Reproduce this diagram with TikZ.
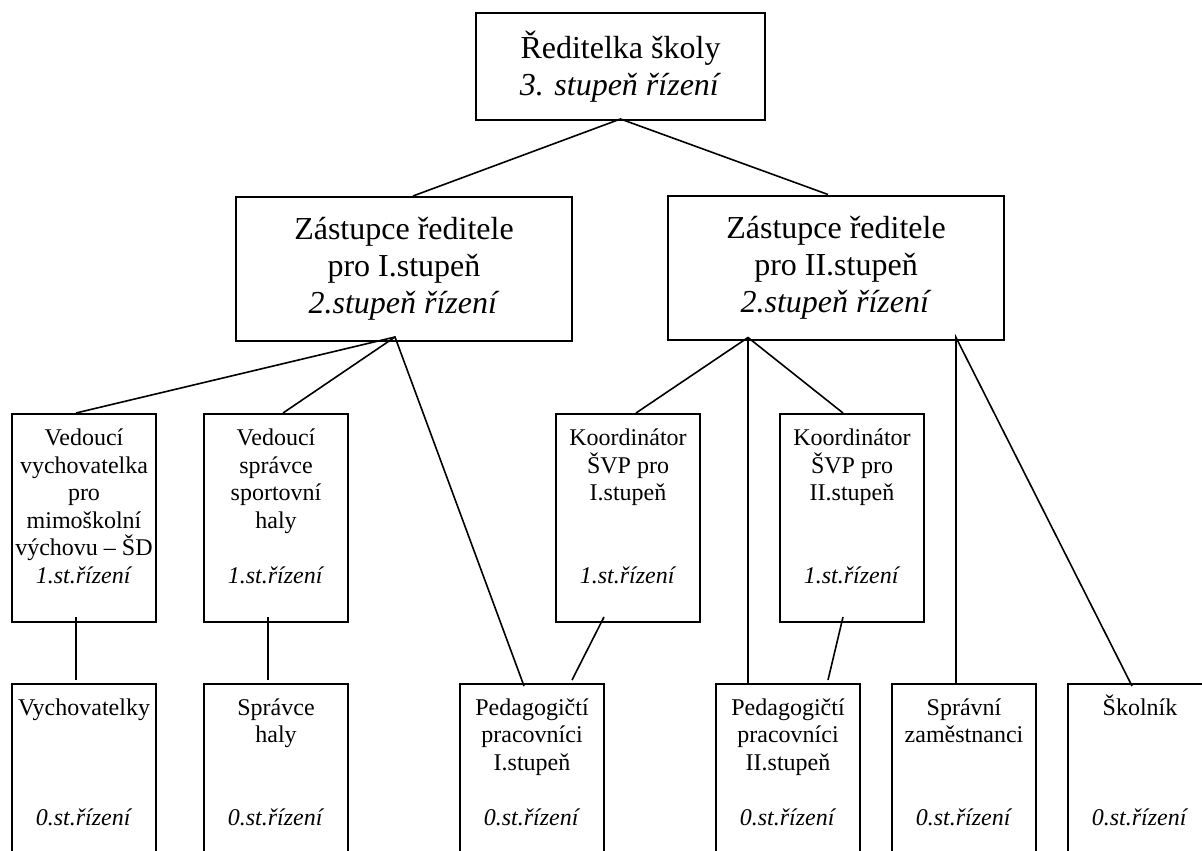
\documentclass[tikz,border=0pt]{standalone}
\usepackage{fontspec}
\setmainfont{Liberation Serif}
\usetikzlibrary{positioning}

\begin{document}
\begin{tikzpicture}[x = 0.5pt, y = -0.5pt]

\tikzset{
head/.style = {rectangle, draw, line width = 1pt, align = center,
	font = \fontsize{16}{18.5}\selectfont},
unit/.style = {rectangle, draw, line width = 1pt, minimum width = 72pt,
	minimum height = 104pt, inner sep = 0pt},
txt/.style = {align = center, inner sep = 0pt, anchor = base,
	font = \fontsize{12}{13.75}\selectfont},
link/.style = {line width = 0.8pt},
	}

\clip (0, 0) rectangle (1202, 850);
\fill [white] (0, 0) rectangle (1202, 850);

%% Vedeni
\node at (620.5, 66.5) [head, minimum width = 144.5pt, minimum height = 53.5pt] (reditel) {Ředitelka školy\\ \textit{3. stupeň řízení}};
\node at (404, 269) [head, minimum width = 168pt, minimum height = 72pt] (zl) {Zástupce ředitele\\ pro I.stupeň\\ \textit{2.stupeň řízení}};
\node at (836, 267.5) [head, minimum width = 168pt, minimum height = 72pt] (zr) {Zástupce ředitele\\ pro II.stupeň\\ \textit{2.stupeň řízení}};

%% 1. stupen rizeni
\node at (84, 518) [unit] (vv) {};
\node at (276, 518) [unit] (vs) {};
\node at (628, 518) [unit] (k1) {};
\node at (852, 518) [unit] (k2) {};
\node at ([yshift = -85pt]vv.north) [txt] (vv-t) {Vedoucí\\ vychovatelka\\ pro\\ mimoškolní\\ výchovu – ŠD\\ \textit{1.st.řízení}};
\node at ([yshift = -85pt]vs.north) [txt] (vs-t) {Vedoucí\\ správce\\ sportovní\\ haly\\ \mbox{}\\ \textit{1.st.řízení}};
\node at ([yshift = -85pt]k1.north) [txt] (k1-t) {Koordinátor\\ ŠVP pro\\ I.stupeň\\ \mbox{}\\ \mbox{}\\ \textit{1.st.řízení}};
\node at ([yshift = -85pt]k2.north) [txt] (k2-t) {Koordinátor\\ ŠVP pro\\ II.stupeň\\ \mbox{}\\ \mbox{}\\ \textit{1.st.řízení}};

%% 0. stupen rizeni
\node at (84, 788) [unit] (vych) {};
\node at (276, 788) [unit] (spr) {};
\node at (532, 788) [unit] (p1) {};
\node at (788, 788) [unit] (p2) {};
\node at (964, 788) [unit] (sz) {};
\node at (1140, 788) [unit] (sk) {};
\node at ([yshift = -71pt]vych.north) [txt] (vych-t) {Vychovatelky\\ \mbox{}\\ \mbox{}\\ \mbox{}\\ \textit{0.st.řízení}};
\node at ([yshift = -71pt]spr.north) [txt] (spr-t) {Správce\\ haly\\ \mbox{}\\ \mbox{}\\ \textit{0.st.řízení}};
\node at ([yshift = -71pt]p1.north) [txt] (p1-t) {Pedagogičtí\\ pracovníci\\ I.stupeň\\ \mbox{}\\ \textit{0.st.řízení}};
\node at ([yshift = -71pt]p2.north) [txt] (p2-t) {Pedagogičtí\\ pracovníci\\ II.stupeň\\ \mbox{}\\ \textit{0.st.řízení}};
\node at ([yshift = -71pt]sz.north) [txt] (sz-t) {Správní\\ zaměstnanci\\ \mbox{}\\ \mbox{}\\ \textit{0.st.řízení}};
\node at ([yshift = -71pt]sk.north) [txt] (sk-t) {Školník\\ \mbox{}\\ \mbox{}\\ \mbox{}\\ \textit{0.st.řízení}};

% Vazby
\draw [link] ([xshift = 4.5pt]zl.north) -- ([yshift = 1pt]reditel.south) -- ([xshift = -4pt]zr.north);

\draw [link] ([xshift = -4pt]vv.north) -- ([xshift = -4.5pt, yshift = 2.5pt]zl.south) -- ([xshift = -4pt, yshift = -1.5pt]p1.north);
\draw [link] ([xshift = -4.5pt, yshift = 2.5pt]zl.south) -- ([xshift = 3.5pt]vs.north);

\draw [link] ([xshift = 4pt]k1.north) -- ([xshift = -44pt, yshift = 1.5pt]zr.south) -- ([xshift = -4.5pt]k2.north);
\draw [link] ([xshift = -44pt, yshift = 1.5pt]zr.south) -- ([xshift = -20pt]p2.north);
\draw [link] ([xshift = -4pt]sz.north) -- ([xshift = 60pt, yshift = 1.5pt]zr.south) -- ([xshift = -4pt, yshift = -1.5pt]sk.north);

\draw [link] ([xshift = -4pt, yshift = 3pt]vv.south) -- ([xshift = -4pt, yshift = 1.5pt]vych.north);
\draw [link] ([xshift = -4pt, yshift = 3pt]vs.south) -- ([xshift = -4pt, yshift = 1.5pt]spr.north);
\draw [link] ([xshift = -12pt, yshift = 3pt]k1.south) -- ([xshift = 20pt, yshift = 1.5pt]p1.north);
\draw [link] ([xshift = -4.5pt, yshift = 3pt]k2.south) -- ([xshift = 20pt, yshift = 1.5pt]p2.north);

\end{tikzpicture}
\end{document}
